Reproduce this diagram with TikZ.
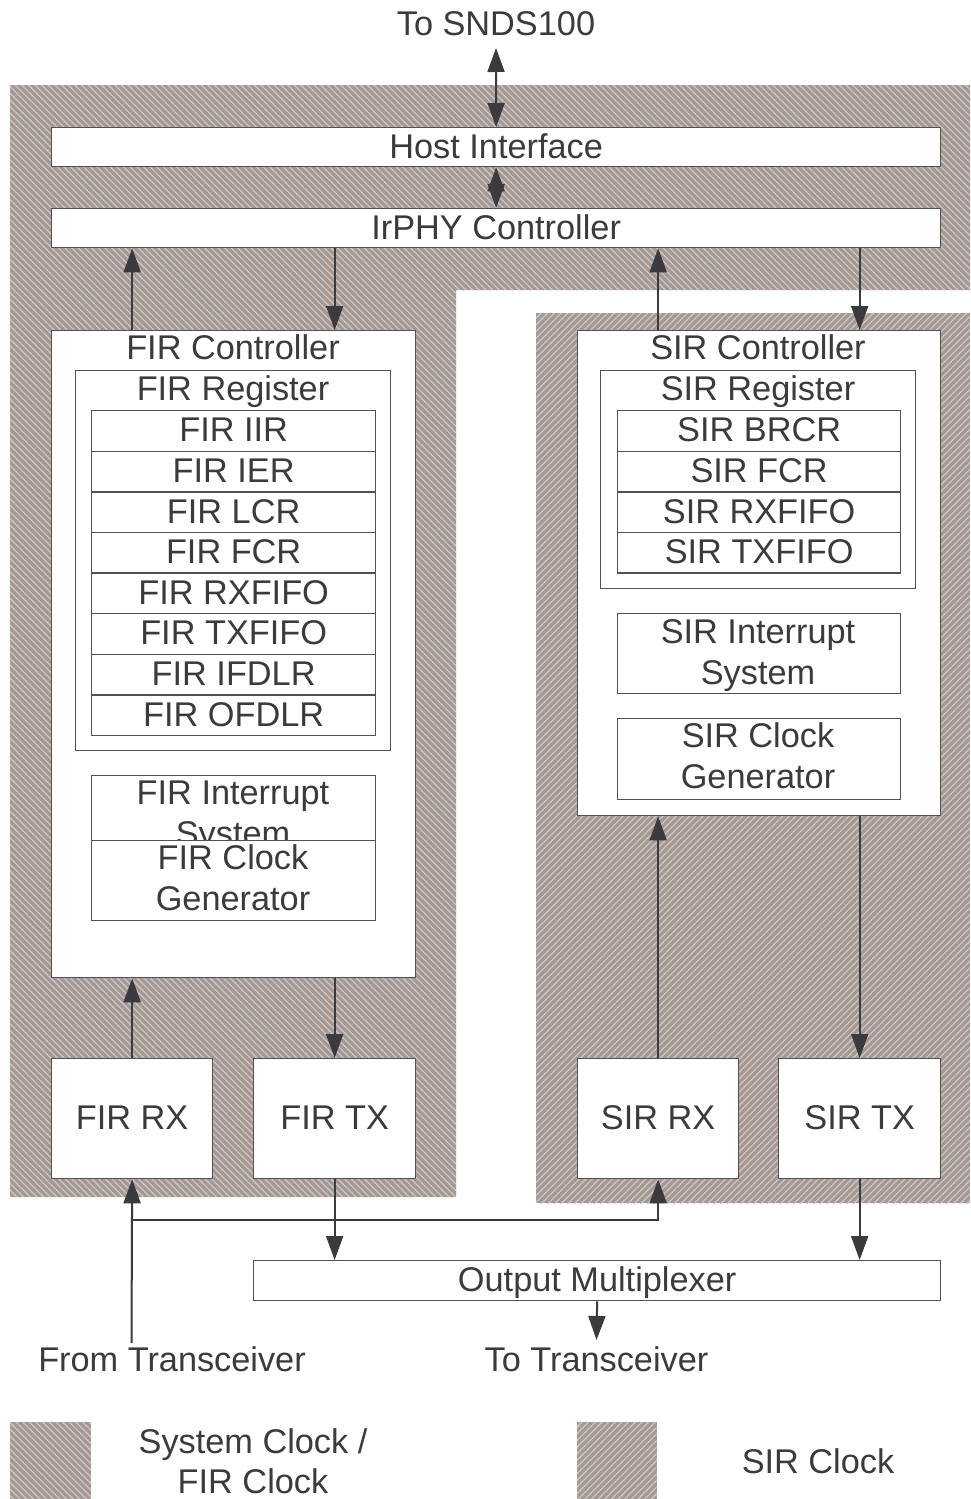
\documentclass[tikz,border=0pt]{standalone}
\usepackage{fontspec}
\setmainfont{Liberation Sans}
\usetikzlibrary{arrows.meta,patterns.meta}
\definecolor{hbase}{HTML}{A39894}
\definecolor{hline}{HTML}{CFC6C2}
\definecolor{ink}{HTML}{3A3A3F}
\definecolor{edge}{HTML}{505055}
\tikzset{
  sysclk/.style={preaction={fill=hbase}, pattern={Lines[angle=-45,distance=4.7pt,line width=1.3pt]}, pattern color=hline},
  sirclk/.style={preaction={fill=hbase}, pattern={Lines[angle=45,distance=4.7pt,line width=1.3pt]}, pattern color=hline},
  box/.style={draw=edge, line width=1.3pt, fill=white, inner sep=0pt, anchor=north west},
  txt/.style={text=ink, font=\fontsize{34.3}{40}\selectfont, inner sep=0pt, text height=22pt, text depth=0pt},
  arr/.style={draw=ink, line width=2pt, -{Triangle[length=24pt,width=17pt]}},
  arrb/.style={draw=ink, line width=2pt, {Triangle[length=24pt,width=17pt]}-{Triangle[length=24pt,width=17pt]}},
  ln/.style={draw=ink, line width=2pt}
}
\newcommand{\bx}[5]{\node[box, minimum width=#4pt, minimum height=#5pt] (#1) at (#2,#3) {};}
\begin{document}
\begin{tikzpicture}[x=1pt,y=-1pt]
\useasboundingbox (0,0) rectangle (971,1499);
% clock regions
\path[sysclk] (10,85) -- (970,85) -- (970,290) -- (456,290) -- (456,1197) -- (10,1197) -- cycle;
\path[sirclk] (536,313) rectangle (970,1203);
% legend
\path[sysclk] (10,1422) rectangle (91,1499);
\path[sirclk] (577,1422) rectangle (657,1499);
\node[txt] (lg1a) at (253,1442) {System Clock /};
\node[txt] (lg1b) at (253,1482) {FIR Clock};
\node[txt] (lg2) at (818,1462) {SIR Clock};
% top
\node[txt] (snds) at (496,24) {To SNDS100};
\bx{host}{51}{127}{889}{39}
\node[txt] (hostt) at (host.center) {Host Interface};
\bx{irphy}{51}{208}{889}{39}
\node[txt] (irphyt) at (irphy.center) {IrPHY Controller};
% FIR controller
\bx{firc}{51}{330}{364}{647}
\node[txt] (firct) at (233,348) {FIR Controller};
\bx{firreg}{75}{370}{315}{380}
\node[txt] (firregt) at (233,389) {FIR Register};
\bx{r1}{91}{410}{284}{40.6}
\bx{r2}{91}{450.6}{284}{40.6}
\bx{r3}{91}{491.2}{284}{40.6}
\bx{r4}{91}{531.8}{284}{40.6}
\bx{r5}{91}{572.4}{284}{40.6}
\bx{r6}{91}{613}{284}{40.6}
\bx{r7}{91}{653.6}{284}{40.6}
\bx{r8}{91}{694.2}{284}{40.6}
\node[txt] at (r1.center) {FIR IIR};
\node[txt] at (r2.center) {FIR IER};
\node[txt] at (r3.center) {FIR LCR};
\node[txt] at (r4.center) {FIR FCR};
\node[txt] at (r5.center) {FIR RXFIFO};
\node[txt] at (r6.center) {FIR TXFIFO};
\node[txt] at (r7.center) {FIR IFDLR};
\node[txt] at (r8.center) {FIR OFDLR};
\bx{firint}{91}{775}{284}{70}
\node[txt] (firint1) at (233,793) {FIR Interrupt};
\node[txt] (firint2) at (233,834) {System};
\bx{firclk}{91}{840}{284}{80}
\node[txt] (firclk1) at (233,858) {FIR Clock};
\node[txt] (firclk2) at (233,899) {Generator};
% SIR controller
\bx{sirc}{577}{330}{363}{485}
\node[txt] (sirct) at (758,348) {SIR Controller};
\bx{sirreg}{600}{370}{315}{218}
\node[txt] (sirregt) at (758,389) {SIR Register};
\bx{s1}{617}{410}{283}{40.6}
\bx{s2}{617}{450.6}{283}{40.6}
\bx{s3}{617}{491.2}{283}{40.6}
\bx{s4}{617}{531.8}{283}{40.6}
\node[txt] at (s1.center) {SIR BRCR};
\node[txt] at (s2.center) {SIR FCR};
\node[txt] at (s3.center) {SIR RXFIFO};
\node[txt] at (s4.center) {SIR TXFIFO};
\bx{sirint}{617}{613}{283}{80}
\node[txt] (sirint1) at (758,632) {SIR Interrupt};
\node[txt] (sirint2) at (758,673) {System};
\bx{sirclkb}{617}{718}{283}{81}
\node[txt] (sirclk1) at (758,736) {SIR Clock};
\node[txt] (sirclk2) at (758,777) {Generator};
% RX/TX
\bx{firrx}{51}{1058}{161}{120}
\bx{firtx}{253}{1058}{162}{120}
\bx{sirrx}{577}{1058}{161}{120}
\bx{sirtx}{778}{1058}{162}{120}
\node[txt] at (firrx.center) {FIR RX};
\node[txt] at (firtx.center) {FIR TX};
\node[txt] at (sirrx.center) {SIR RX};
\node[txt] at (sirtx.center) {SIR TX};
% mux
\bx{mux}{253}{1260}{687}{40}
\node[txt] (muxt) at (mux.center) {Output Multiplexer};
\node[txt] (fromT) at (172,1360) {From Transceiver};
\node[txt] (toT) at (596.5,1360) {To Transceiver};
% connectors
\draw[arrb] (496,48) -- (host.north);
\draw[arrb] (host.south) -- (irphy.north);
\draw[arr] (firc.north -| firrx) -- (irphy.south -| firrx);
\draw[arr] (irphy.south -| firtx) -- (firc.north -| firtx);
\draw[arr] (sirc.north -| sirrx) -- (irphy.south -| sirrx);
\draw[arr] (irphy.south -| sirtx) -- (sirc.north -| sirtx);
\draw[arr] (firrx.north) -- (firc.south -| firrx);
\draw[arr] (firc.south -| firtx) -- (firtx.north);
\draw[arr] (sirrx.north) -- (sirc.south -| sirrx);
\draw[arr] (sirc.south -| sirtx) -- (sirtx.north);
\coordinate (fromTop) at (131.5,1343);
\coordinate (br) at (131.5,1220);
\draw[arr] (fromTop) -- (firrx.south);
\draw[arr] (br) -| (sirrx.south);
\draw[arr] (firtx.south) -- (mux.north -| firtx);
\draw[arr] (sirtx.south) -- (mux.north -| sirtx);
\draw[arr] (mux.south) -- (596.5,1340);
\end{tikzpicture}
\end{document}
